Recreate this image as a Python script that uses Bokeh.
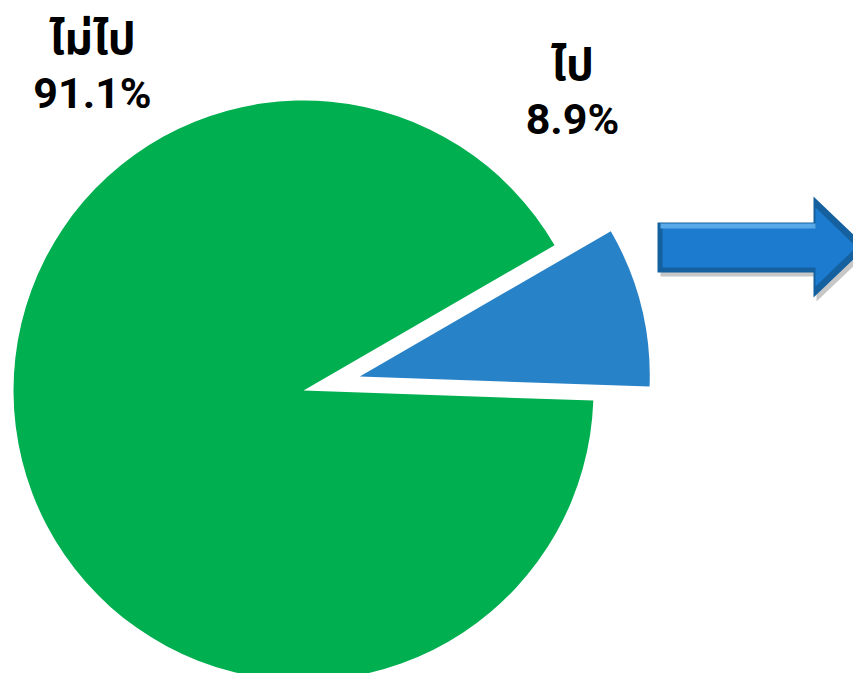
import math
from bokeh.plotting import figure
from bokeh.models import Range1d, ColumnDataSource
from bokeh.core.properties import value
from bokeh.embed import file_html
from bokeh.resources import INLINE

# ---- data ----
labels = ["ไม่ไป", "ไป"]
percents = [91.1, 8.9]
colors = ["#00AF50", "#2882C7"]

# ---- layout (data coords == image pixels, y up) ----
W, H = 853, 673
IMG_H = 681
def X(px): return px
def Y(py): return IMG_H - py

p = figure(width=W, height=H, output_backend="svg", toolbar_location=None,
           x_range=Range1d(0, W), y_range=Range1d(IMG_H - H, IMG_H),
           min_border=0, outline_line_color=None)
p.axis.visible = False
p.grid.visible = False
p.background_fill_color = "white"
p.border_fill_color = "white"

cx, cy = 303, 390
R = 290
start_deg = -2.0  # blue slice starts slightly below horizontal
explode = 58

blue_start = math.radians(start_deg)
blue_end = blue_start + percents[1] / 100 * 2 * math.pi
green_start = blue_end
green_end = blue_start + 2 * math.pi
mid = (blue_start + blue_end) / 2

xs = [X(cx), X(cx) + explode * math.cos(mid)]
ys = [Y(cy), Y(cy) + explode * math.sin(mid)]
src = ColumnDataSource(dict(x=xs, y=ys, s=[green_start, blue_start],
                            e=[green_end, blue_end], c=[colors[0], colors[1]]))
p.wedge(x="x", y="y", radius=R, radius_units="screen", start_angle="s", end_angle="e",
        fill_color="c", line_color=None, source=src)

# ---- labels ----
thai_font = value("'Noto Sans Thai', 'Noto Sans Thai UI', Roboto")
num_font = value("Roboto")
lab_x = [92, 572]
name_y = [40, 66]
pct_y = [92, 118]
p.text(x=[X(v) for v in lab_x], y=[Y(v) for v in name_y], text=labels,
       text_font=thai_font, text_font_style="bold", text_font_size="44px",
       text_align="center", text_baseline="alphabetic", text_color="black")
p.text(x=[X(v) for v in lab_x], y=[Y(v) for v in pct_y],
       text=[f"{v:.1f}%" for v in percents],
       text_font=num_font, text_font_style="bold", text_font_size="43px",
       text_align="center", text_baseline="alphabetic", text_color="black")

# ---- decorative arrow ----
ax0, ax1, tip = 657, 813, 866
sy0, sy1 = 222, 272
hy0, hy1 = 196, 297
ym = (hy0 + hy1) / 2
def arrow(dx=0, dy=0, shrink=0):
    pxs = [ax0 + shrink, ax1 + shrink * 0.4, ax1 + shrink * 0.4, tip - shrink * 2,
           ax1 + shrink * 0.4, ax1 + shrink * 0.4, ax0 + shrink]
    pys = [sy0 + shrink, sy0 + shrink, hy0 + shrink * 2.2, ym, hy1 - shrink * 2.2,
           sy1 - shrink, sy1 - shrink]
    return [X(v + dx) for v in pxs], [Y(v + dy) for v in pys]
sx, sy = arrow(3, 4)
p.patch(sx, sy, fill_color="#000000", fill_alpha=0.22, line_color=None)
ox, oy = arrow()
p.patch(ox, oy, fill_color="#15609F", line_color=None)
ix, iy = arrow(shrink=5)
p.patch(ix, iy, fill_color="#1C7BCF", line_color=None)
# light top band on the shaft
p.quad(left=[X(ax0 + 3)], right=[X(ax1 + 2)], top=[Y(sy0 + 1)], bottom=[Y(sy0 + 6)],
       fill_color="#58A9E8", line_color=None)

open("out.html", "w").write(file_html(p, INLINE))
